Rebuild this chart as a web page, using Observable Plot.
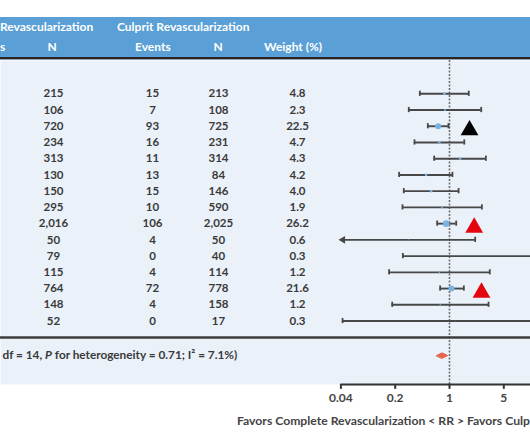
<!DOCTYPE html>
<html><head><meta charset="utf-8">
<script src="https://cdn.jsdelivr.net/npm/d3@7"></script>
<script src="https://cdn.jsdelivr.net/npm/@observablehq/plot@0.6"></script>
<style>
html,body{margin:0;padding:0;background:#fff;width:530px;height:442px;overflow:hidden;font-family:Lato,sans-serif;}
#hdr{position:relative;margin-top:17px;height:40px;background:#5a9fd6;overflow:hidden;color:#fff;font-weight:700;font-size:12px;}
#hdr span{position:absolute;white-space:nowrap;line-height:14px;}
.l1{top:3px}.l2{top:23px}
.c{transform:translateX(-50%)}
#rule1{height:2px;background:#262626}
#rule2{height:1px;background:#9aa2ac}
#chart svg{display:block}
#cap{padding-left:237px;white-space:nowrap;overflow:hidden;font-weight:700;font-size:12.2px;line-height:18px;color:#444;}
</style></head>
<body>
<div id="hdr">
  <span class="l1" style="left:0">Revascularization</span>
  <span class="l1" style="left:117px">Culprit Revascularization</span>
  <span class="l2" style="left:0">s</span>
  <span class="l2 c" style="left:52px">N</span>
  <span class="l2" style="left:135px">Events</span>
  <span class="l2 c" style="left:218px">N</span>
  <span class="l2" style="left:264px">Weight (%)</span>
</div>
<div id="rule1"></div><div id="rule2"></div>
<div id="chart"></div>
<div id="cap">Favors Complete Revascularization &lt; RR &gt; Favors Culprit Revascularization</div>
<script>
// ---- data ----
const completeN     = [215, 106, 720, 234, 313, 130, 150, 295, 2016, 50, 79, 115, 764, 148, 52];
const culpritEvents = [15, 7, 93, 16, 11, 13, 15, 10, 106, 4, 0, 4, 72, 4, 0];
const culpritN      = [213, 108, 725, 231, 314, 84, 146, 590, 2025, 50, 40, 114, 778, 158, 17];
const weights       = [4.8, 2.3, 22.5, 4.7, 4.3, 4.2, 4.0, 1.9, 26.2, 0.6, 0.3, 1.2, 21.6, 1.2, 0.3];
const rr            = [0.86, 0.875, 0.715, 0.74, 1.37, 0.50, 0.58, 0.80, 0.906, 0.30, 2.7, 0.74, 1.06, 0.76, 1.2];
const ciLow         = [0.415, 0.299, 0.526, 0.354, 0.635, 0.225, 0.258, 0.248, 0.694, 0.04, 0.251, 0.167, 0.758, 0.183, 0.042];
const ciHigh        = [1.77, 2.56, 0.97, 1.55, 2.94, 1.09, 1.31, 2.61, 1.22, 2.14, 30, 3.30, 1.53, 3.18, 40];
const markerRows    = [3, 9, 13];
const markerRR      = [1.81, 2.08, 2.58];
const markerColors  = ["#000000", "#e3060f", "#e3060f"];
const pooledRR = 0.80, pooledLow = 0.68, pooledHigh = 0.95;
const xTicks = [0.04, 0.2, 1, 5];
const xMax = 25;
const hetText = "df = 14, P for heterogeneity = 0.71; I\u00b2 = 7.1%)";

// ---- layout constants ----
const sepRow = 16.02, sumRow = 17.13, yDomain = [-1.05, 18.91];
const capH = 0.16, diaH = 0.17, tickLen = 0.3;
const cols = [
  {key: "n",  x: 53,  fmt: d3.format(",")},
  {key: "ev", x: 152, fmt: d3.format("d")},
  {key: "cn", x: 218, fmt: d3.format(",")},
  {key: "w",  x: 297, fmt: d3.format(".1f")}
];
const lineColor = "#474747";

const studies = completeN.map((n, i) => ({
  row: i + 1, n, ev: culpritEvents[i], cn: culpritN[i], w: weights[i],
  rr: rr[i], lo: ciLow[i], hi: ciHigh[i]
}));
const markers = markerRows.map((r, i) => ({row: r, rr: markerRR[i], color: markerColors[i]}));
const diamond = [
  {x: pooledLow, y: sumRow}, {x: pooledRR, y: sumRow - diaH},
  {x: pooledHigh, y: sumRow}, {x: pooledRR, y: sumRow + diaH}
];
const xMin = xTicks[0];
const yAxis = yDomain[1];

const plot = Plot.plot({
  width: 530, height: 352,
  marginTop: 0, marginBottom: 28, marginLeft: 0, marginRight: 0,
  style: {fontFamily: "Lato, sans-serif", fontSize: "11px", background: "transparent"},
  x: {type: "log", domain: [xMin, xMax], range: [340.4, 557.6], axis: null},
  y: {domain: yDomain, reverse: true, axis: null},
  r: {type: "sqrt", domain: [0, 26.2], range: [0, 3.3]},
  color: {type: "identity"},
  marks: [
    Plot.frame({fill: "#ebf1f9", stroke: "none"}),
    Plot.ruleX([1], {stroke: "#6f6f6f", strokeDasharray: "2,1.5", strokeWidth: 1.6}),
    Plot.ruleY([sepRow], {stroke: "#3c3c3c", strokeWidth: 2.5}),
    // CI lines
    Plot.ruleY(studies, {y: "row", x1: "lo", x2: "hi", stroke: lineColor, strokeWidth: 1.9}),
    Plot.ruleX(studies.filter(d => d.lo > xMin), {x: "lo", y1: d => d.row - capH, y2: d => d.row + capH, stroke: lineColor, strokeWidth: 1.8}),
    Plot.ruleX(studies, {x: "hi", y1: d => d.row - capH, y2: d => d.row + capH, stroke: lineColor, strokeWidth: 1.8}),
    Plot.dot(studies.filter(d => d.lo <= xMin), {x: "lo", y: "row", symbol: "triangle", rotate: -90, r: 2.8, fill: lineColor, dx: 2}),
    // point estimates sized by weight
    Plot.dot(studies, {x: "rr", y: "row", r: "w", fill: "#79b3e3"}),
    // annotation triangles
    Plot.dot(markers, {x: "rr", y: "row", symbol: "triangle", r: 6.6, fill: "color", dy: 4}),
    // pooled diamond
    Plot.line(diamond, {x: "x", y: "y", fill: "#e8634e", stroke: "#e8634e", strokeWidth: 1, curve: "linear-closed"}),
    // table columns
    ...cols.map(c => Plot.text(studies, {
      y: "row", text: d => c.fmt(d[c.key]), frameAnchor: "left", dx: c.x,
      textAnchor: "middle", fill: "#3a3a3a", fontWeight: "bold", fontSize: 11.5
    })),
    Plot.text([{t: hetText, row: sumRow}], {y: "row", text: "t", frameAnchor: "left", dx: 2, textAnchor: "start", fill: "#3a3a3a", fontWeight: "bold", fontSize: 11.8}),
    // x axis: line, ticks, labels
    Plot.ruleY([yAxis], {x1: xMin, x2: xMax, stroke: "#333", strokeWidth: 2}),
    Plot.ruleX(xTicks, {x: d => d, y1: yAxis, y2: yAxis + tickLen, stroke: "#333", strokeWidth: 2}),
    Plot.text(xTicks, {x: d => d, text: d => String(d), frameAnchor: "bottom", dy: 17.5,
      fontSize: 12, fontWeight: "bold", fill: "#444"})
  ]
});
document.getElementById("chart").appendChild(plot);

// italic "P" in heterogeneity text
d3.select(plot).selectAll("text").filter(function() { return this.textContent === hetText; })
  .each(function() {
    const t = d3.select(this);
    t.text(null);
    const i = hetText.indexOf("P ");
    t.append("tspan").text(hetText.slice(0, i));
    t.append("tspan").attr("font-style", "italic").text("P");
    t.append("tspan").text(hetText.slice(i + 1));
  });
</script>
</body></html>
